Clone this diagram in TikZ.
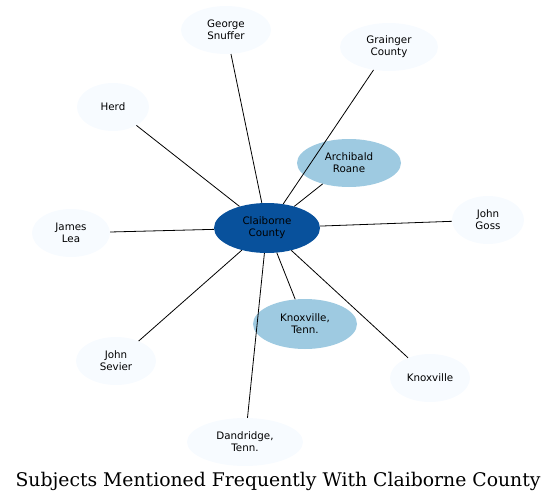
\documentclass[tikz,border=0pt]{standalone}
\usepackage{fontspec}
\setsansfont{DejaVu Sans}
\newfontfamily\titlefont{DejaVu Serif}
\usetikzlibrary{shapes.geometric}
\definecolor{cdark}{HTML}{08519C}
\definecolor{cmid}{HTML}{9ECAE1}
\definecolor{cpale}{HTML}{F7FBFF}
\begin{document}
\begin{tikzpicture}[x=1pt,y=-1pt,
  bub/.style={ellipse,inner sep=0pt,align=center,font=\sffamily\fontsize{10.3}{12}\selectfont,text=black},
  pale/.style={bub,fill=cpale},
  mid/.style={bub,fill=cmid},
  hub/.style={bub,fill=cdark},
  link/.style={draw=black,line width=0.8pt}]
\useasboundingbox (0,0) rectangle (557,503);
\node[hub,minimum width=106pt,minimum height=50pt] (cc) at (267,228) {Claiborne\\County};
\node[mid,minimum width=104pt,minimum height=48pt] (ar) at (349,163) {Archibald\\Roane};
\node[mid,minimum width=104pt,minimum height=50pt] (kt) at (305,324) {Knoxville,\\Tenn.};
\node[pale,minimum width=90pt,minimum height=48pt] (gs) at (226,30) {George\\Snuffer};
\node[pale,minimum width=98pt,minimum height=48pt] (gc) at (389,47) {Grainger\\County};
\node[pale,minimum width=72pt,minimum height=48pt] (he) at (113,107) {Herd};
\node[pale,minimum width=78pt,minimum height=48pt] (jl) at (71,233) {James\\Lea};
\node[pale,minimum width=72pt,minimum height=48pt] (jg) at (488,220) {John\\Goss};
\node[pale,minimum width=80pt,minimum height=48pt] (js) at (116,361) {John\\Sevier};
\node[pale,minimum width=80pt,minimum height=48pt] (kn) at (430,378) {Knoxville};
\node[pale,minimum width=116pt,minimum height=48pt] (dt) at (245,442) {Dandridge,\\Tenn.};
\foreach \t in {ar,kt,gs,gc,he,jl,jg,js,kn,dt} \draw[link] (cc) -- (\t);
\node[font=\titlefont\fontsize{18.8}{22}\selectfont] (title) at (278,481) {Subjects Mentioned Frequently With Claiborne County};
\end{tikzpicture}
\end{document}
